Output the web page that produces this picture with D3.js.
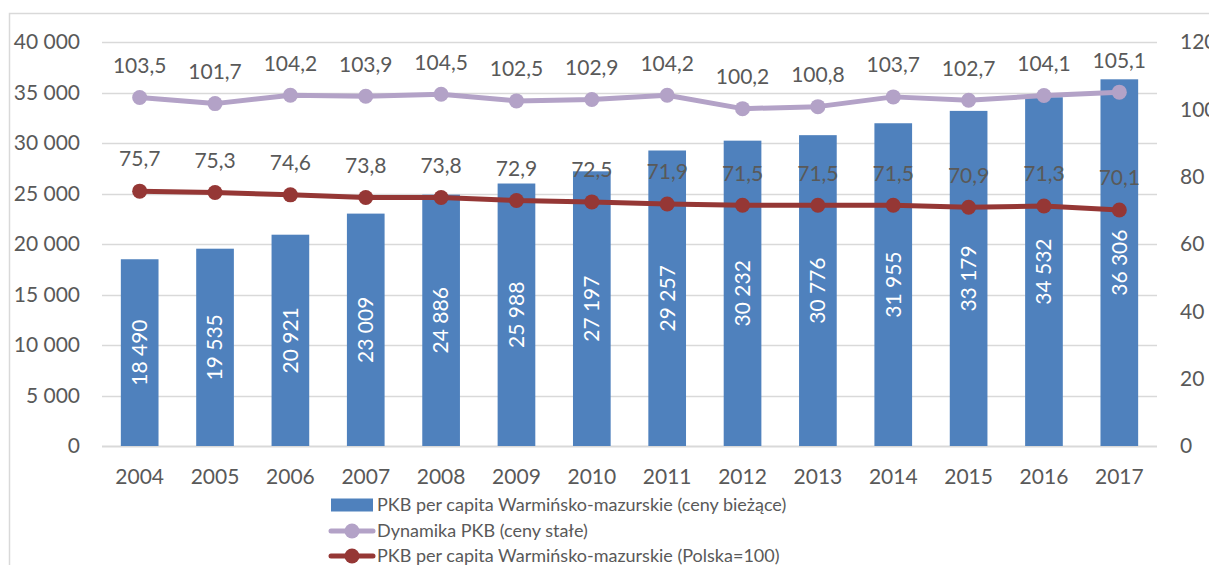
<!DOCTYPE html>
<html>
<head>
<meta charset="utf-8">
<script src="https://cdn.jsdelivr.net/npm/d3@7"></script>
<style>
  body { margin: 0; background: #fff; }
  svg { display: block; font-family: Lato, "Open Sans", sans-serif; }
</style>
</head>
<body>
<div class="visHolder"></div>
<script>
const years = ['2004','2005','2006','2007','2008','2009','2010','2011','2012','2013','2014','2015','2016','2017'];
const pkbCurrent = [18490, 19535, 20921, 23009, 24886, 25988, 27197, 29257, 30232, 30776, 31955, 33179, 34532, 36306];
const dynamics = [103.5, 101.7, 104.2, 103.9, 104.5, 102.5, 102.9, 104.2, 100.2, 100.8, 103.7, 102.7, 104.1, 105.1];
const polandIdx = [75.7, 75.3, 74.6, 73.8, 73.8, 72.9, 72.5, 71.9, 71.5, 71.5, 71.5, 70.9, 71.3, 70.1];
const leftTicks = [0, 5000, 10000, 15000, 20000, 25000, 30000, 35000, 40000];
const rightTicks = [0, 20, 40, 60, 80, 100, 120];
const legendLabels = [
  'PKB per capita Warmińsko-mazurskie (ceny bieżące)',
  'Dynamika PKB (ceny stałe)',
  'PKB per capita Warmińsko-mazurskie (Polska=100)'
];

const w = 1209, h = 565;
const plotLeft = 102, plotRight = 1157, plotTop = 42, plotBottom = 446;
const txt = '#595959', grid = '#d9d9d9';
const barColor = '#4f81bd', purple = '#b3a2c7', red = '#953735';

const pl = d3.formatLocale({decimal: ',', thousands: '\u00a0', grouping: [3], currency: ['', '']});
const fmtInt = pl.format(',d');
const fmt1 = pl.format('.1f');

const svg = d3.select('.visHolder')
  .append('svg')
  .attr('width', w)
  .attr('height', h);

// chart frame
svg.append('rect')
  .attr('x', 9.5).attr('y', 13.5)
  .attr('width', 1300).attr('height', 600)
  .attr('fill', 'none').attr('stroke', grid).attr('stroke-width', 1.5);

const xScale = d3.scaleBand().domain(years).range([plotLeft, plotRight]).paddingInner(0.5).paddingOuter(0.25);
const yLeft = d3.scaleLinear().domain([0, 40000]).range([plotBottom, plotTop]);
const yRight = d3.scaleLinear().domain([0, 120]).range([plotBottom, plotTop]);
const cx = d => xScale(d) + xScale.bandwidth() / 2;

// gridlines
svg.append('g')
  .selectAll('line')
  .data(leftTicks)
  .join('line')
  .attr('x1', plotLeft).attr('x2', plotRight)
  .attr('y1', d => Math.round(yLeft(d)) + 0.5)
  .attr('y2', d => Math.round(yLeft(d)) + 0.5)
  .attr('stroke', grid).attr('stroke-width', d => d === 0 ? 2 : 1.5);

// left axis labels
svg.append('g')
  .selectAll('text')
  .data(leftTicks)
  .join('text')
  .attr('x', 80)
  .attr('y', d => yLeft(d))
  .attr('dy', '0.35em')
  .attr('text-anchor', 'end')
  .attr('fill', txt)
  .attr('font-size', 21)
  .text(d => fmtInt(d));

// right axis labels
svg.append('g')
  .selectAll('text')
  .data(rightTicks)
  .join('text')
  .attr('x', 1180)
  .attr('y', d => yRight(d))
  .attr('dy', '0.35em')
  .attr('fill', txt)
  .attr('font-size', 21)
  .text(d => d);

// x labels
svg.append('g')
  .selectAll('text')
  .data(years)
  .join('text')
  .attr('x', d => cx(d))
  .attr('y', 477)
  .attr('dy', '0.35em')
  .attr('text-anchor', 'middle')
  .attr('fill', txt)
  .attr('font-size', 21)
  .text(d => d);

// bars
svg.append('g')
  .selectAll('rect')
  .data(pkbCurrent)
  .join('rect')
  .attr('x', (d, i) => xScale(years[i]))
  .attr('y', d => yLeft(d))
  .attr('width', xScale.bandwidth())
  .attr('height', d => yLeft(0) - yLeft(d))
  .attr('fill', barColor);

// lines
function drawSeries(values, color) {
  const line = d3.line()
    .x((d, i) => cx(years[i]))
    .y(d => yRight(d));
  svg.append('path')
    .datum(values)
    .attr('fill', 'none')
    .attr('stroke', color)
    .attr('stroke-width', 5)
    .attr('stroke-linejoin', 'round')
    .attr('d', line);
  svg.append('g')
    .selectAll('circle')
    .data(values)
    .join('circle')
    .attr('cx', (d, i) => cx(years[i]))
    .attr('cy', d => yRight(d))
    .attr('r', 7.5)
    .attr('fill', color);
  svg.append('g')
    .selectAll('text')
    .data(values)
    .join('text')
    .attr('x', (d, i) => cx(years[i]))
    .attr('y', d => yRight(d) - 32)
    .attr('dy', '0.35em')
    .attr('text-anchor', 'middle')
    .attr('fill', txt)
    .attr('font-size', 21)
    .text(d => fmt1(d));
}
drawSeries(dynamics, purple);
drawSeries(polandIdx, red);

// bar labels (rotated, white)
svg.append('g')
  .selectAll('text')
  .data(pkbCurrent)
  .join('text')
  .attr('transform', (d, i) => `translate(${cx(years[i])},${(yLeft(d) + yLeft(0)) / 2}) rotate(-90)`)
  .attr('dy', '0.35em')
  .attr('text-anchor', 'middle')
  .attr('fill', '#fff')
  .attr('font-size', 21)
  .text(d => fmtInt(d));

// legend
const legend = svg.append('g');
const legendY = [505, 531, 556];
legend.append('rect')
  .attr('x', 331).attr('y', legendY[0] - 6.5)
  .attr('width', 42).attr('height', 13)
  .attr('fill', barColor);
[[purple, 1], [red, 2]].forEach(([c, i]) => {
  legend.append('line')
    .attr('x1', 331).attr('x2', 373)
    .attr('y1', legendY[i]).attr('y2', legendY[i])
    .attr('stroke', c).attr('stroke-width', 5).attr('stroke-linecap', 'round');
  legend.append('circle')
    .attr('cx', 352).attr('cy', legendY[i]).attr('r', 7.5).attr('fill', c);
});
legend.selectAll('text')
  .data(legendLabels)
  .join('text')
  .attr('x', 377)
  .attr('y', (d, i) => legendY[i])
  .attr('dy', '0.35em')
  .attr('fill', txt)
  .attr('font-size', 18)
  .text(d => d);
</script>
</body>
</html>
